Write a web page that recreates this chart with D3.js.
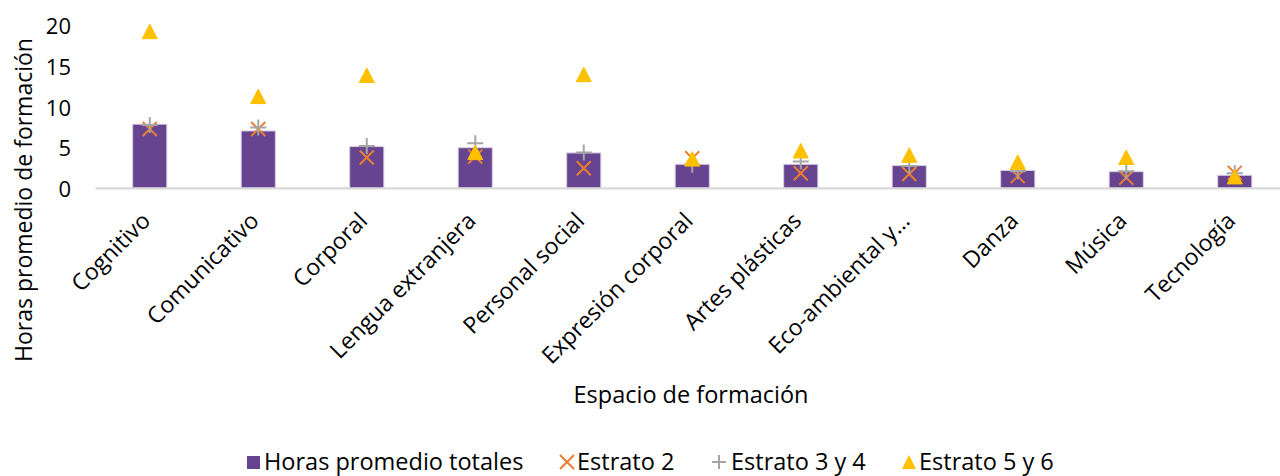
<!DOCTYPE html>
<html>
<head>
<meta charset="utf-8">
<script src="https://cdn.jsdelivr.net/npm/d3@7"></script>
<style>
  body { margin: 0; background: #fff; }
  text { font-family: "Open Sans", Lato, sans-serif; fill: #000; }
</style>
</head>
<body>
<div class="container"></div>
<script>
// chart values
let categories = ["Cognitivo", "Comunicativo", "Corporal", "Lengua extranjera", "Personal social",
    "Expresión corporal", "Artes plásticas", "Eco-ambiental y…", "Danza", "Música", "Tecnología"];
let totales = [7.9, 7.07, 5.14, 5.0, 4.36, 2.96, 2.96, 2.8, 2.2, 2.05, 1.6];
let estrato2 = [7.3, 7.3, 3.8, 3.9, 2.47, 3.7, 1.85, 1.77, 1.5, 1.3, 1.9];
let estrato34 = [7.8, 7.5, 5.2, 5.55, 4.4, 2.9, 3.3, 2.75, 2.1, 2.1, 1.85];
let estrato56 = [19.3, 11.3, 13.9, 4.4, 14.0, 3.6, 4.6, 4.07, 3.2, 3.8, 1.4];
let yTicks = [0, 5, 10, 15, 20];
let legendLabels = ["Horas promedio totales", "Estrato 2", "Estrato 3 y 4", "Estrato 5 y 6"];

let W = 1280, H = 476;
let margin = {top: 26, left: 95.5};

let svg = d3.select(".container").append("svg")
    .attr("width", W)
    .attr("height", H);

let xScale = d3.scaleBand()
    .domain(categories)
    .range([margin.left, margin.left + 11 * 108.5])
    .paddingInner(0.685)
    .paddingOuter(0.3425);

let yScale = d3.scaleLinear()
    .domain([0, 20])
    .range([188.3, margin.top]);

let cx = function (d, i) { return xScale(categories[i]) + xScale.bandwidth() / 2; };

// y axis labels (no line)
let yAxis = d3.axisLeft(yScale).tickValues(yTicks).tickSize(0).tickPadding(0);
let gy = svg.append("g")
    .attr("transform", "translate(71,0)")
    .call(yAxis);
gy.select(".domain").remove();
gy.selectAll("text").style("font-size", "22px").attr("dy", "0.36em").attr("fill", "#000");

// bars
svg.append("g").selectAll("rect")
    .data(totales)
    .enter()
    .append("rect")
    .attr("x", function (d, i) { return xScale(categories[i]); })
    .attr("y", function (d) { return yScale(d); })
    .attr("width", xScale.bandwidth())
    .attr("height", function (d) { return yScale(0) - yScale(d); })
    .attr("fill", "#674490")
    .attr("stroke", "#d9cfe6")
    .attr("stroke-width", 1);

// x axis
let xAxis = d3.axisBottom(xScale).tickSize(0).tickPadding(0);
let gx = svg.append("g")
    .attr("transform", "translate(0," + yScale(0) + ")")
    .call(xAxis);
gx.select(".domain").attr("stroke", "#d9d9d9").attr("stroke-width", 2.2)
    .attr("d", "M95.5,0H1280");
gx.selectAll("text")
    .style("font-size", "23px")
    .attr("fill", "#000")
    .attr("text-anchor", "end")
    .attr("transform", "translate(2,34) rotate(-45)")
    .attr("dy", 0)
    .attr("y", 0);

// markers
let markers = svg.append("g");
markers.selectAll(".s2")
    .data(estrato2)
    .enter()
    .append("path")
    .attr("d", "M-7,-7L7,7M-7,7L7,-7")
    .attr("stroke", "#ED7D31")
    .attr("stroke-width", 2)
    .attr("fill", "none")
    .attr("transform", function (d, i) { return "translate(" + cx(d, i) + "," + yScale(d) + ")"; });

markers.selectAll(".s34")
    .data(estrato34)
    .enter()
    .append("path")
    .attr("d", "M-8,0H8M0,-8V8")
    .attr("stroke", "#A5A5A5")
    .attr("stroke-width", 2)
    .attr("fill", "none")
    .attr("transform", function (d, i) { return "translate(" + cx(d, i) + "," + yScale(d) + ")"; });

markers.selectAll(".s56")
    .data(estrato56)
    .enter()
    .append("path")
    .attr("d", "M0,-7.5L7.5,7L-7.5,7Z")
    .attr("fill", "#FFC000")
    .attr("stroke", "#FFC000")
    .attr("stroke-linejoin", "round")
    .attr("transform", function (d, i) { return "translate(" + cx(d, i) + "," + yScale(d) + ")"; });

// axis titles
svg.append("text")
    .attr("transform", "translate(32,200) rotate(-90)")
    .attr("text-anchor", "middle")
    .style("font-size", "23px")
    .text("Horas promedio de formación");

svg.append("text")
    .attr("x", 691)
    .attr("y", 403)
    .attr("text-anchor", "middle")
    .style("font-size", "23.5px")
    .text("Espacio de formación");

// legend
let legendX = [247, 560, 712, 902];
let leg = svg.append("g").attr("transform", "translate(0,462)");
leg.append("rect").attr("x", legendX[0]).attr("y", -6).attr("width", 13).attr("height", 13).attr("fill", "#674490");
leg.append("path").attr("d", "M" + (legendX[1]) + ",-7L" + (legendX[1] + 14) + ",7M" + legendX[1] + ",7L" + (legendX[1] + 14) + ",-7")
    .attr("stroke", "#ED7D31").attr("stroke-width", 2);
leg.append("path").attr("d", "M" + legendX[2] + ",0H" + (legendX[2] + 14) + "M" + (legendX[2] + 7) + ",-7V7")
    .attr("stroke", "#A5A5A5").attr("stroke-width", 2);
leg.append("path").attr("d", "M" + (legendX[3] + 7) + ",-7L" + (legendX[3] + 14) + ",7L" + legendX[3] + ",7Z")
    .attr("fill", "#FFC000");
let textX = [264, 577, 731, 919];
leg.selectAll(".lt")
    .data(legendLabels)
    .enter()
    .append("text")
    .attr("x", function (d, i) { return textX[i]; })
    .attr("y", 0)
    .attr("dy", "0.34em")
    .style("font-size", "23.5px")
    .text(function (d) { return d; });
</script>
</body>
</html>
